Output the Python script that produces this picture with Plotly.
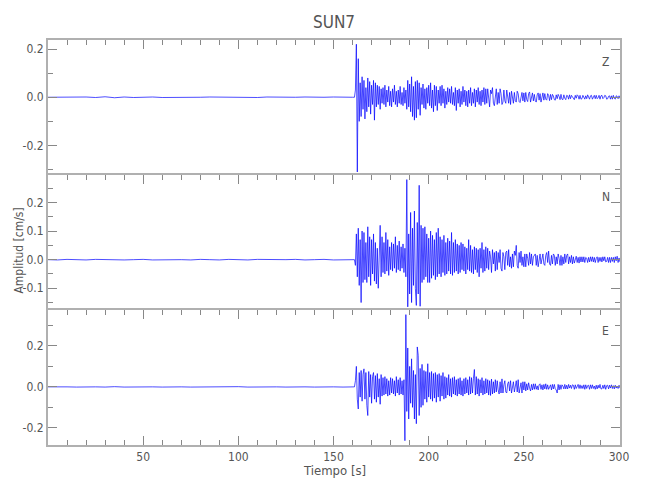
import numpy as np
import plotly.graph_objects as go

# ---------------- data (amplitudes in 0.001 cm/s) ----------------
t_quiet = np.arange(0, 161, 5.0)          # 33 samples, pre-event noise
t_active = np.arange(161.0, 302.01, 0.5)  # 283 samples, event

z_quiet = [0, 1, -1, 0, 1, -1, 2, -2, 1, -1, 0, 1, -1, 0, 1, -1, 0, 1, 0, -1,
           1, 0, -1, 1, 0, -1, 0, 1, -1, 0, 1, -1, 0]
n_quiet = [0, -1, 1, 0, -1, 1, 0, 1, -1, 0, 1, -1, 0, 1, 0, -1, 1, 0, -1, 1,
           0, -1, 1, 0, -1, 0, 1, -1, 0, 1, -1, 0, 0]
e_quiet = [0, 1, 0, -1, 1, 0, -1, 1, -1, 0, 1, 0, -1, 1, 0, -1, 0, 1, -1, 0,
           1, -1, 0, 1, 0, -1, 1, 0, -1, 1, 0, -1, 0]

z_active = [
    0, 30, 220, -310, 160, -100, 60, -80, 85, -50,
    70, -90, 40, -60, 80, -40, 65, -70, 50, -30,
    70, -95, 60, -40, 50, -30, 45, -50, 35, -25,
    40, -30, 50, -40, 30, -20, 45, -35, 25, -40,
    35, -20, 50, -30, 25, -40, 30, -25, 45, -30,
    20, -35, 40, -25, 30, -50, 70, -40, 55, -60,
    85, -80, 45, -95, 65, -85, 70, -50, 60, -75,
    40, -30, 55, -45, 35, -50, 40, -25, 50, -35,
    60, -45, 30, -60, 50, -35, 45, -55, 30, -25,
    45, -35, 50, -25, 35, -45, 25, -30, 40, -20,
    35, -25, 45, -30, 20, -35, 40, -55, 30, -25,
    35, -40, 25, -30, 45, -20, 30, -35, 25, -40,
    30, -25, 40, -35, 20, -25, 35, -40, 30, -20,
    40, -30, 25, -35, 30, -20, 40, -30, 35, -25,
    35, -20, -40, 30, 15, 40, -25, -35, 10, 35,
    -30, 20, -25, 35, 15, -30, -20, 30, -15, -25,
    30, 10, -25, 20, -30, 25, 5, -25, 20, -15,
    -20, 25, 15, -18, -22, 10, 20, -15, 18, -20,
    20, -10, -18, 15, 22, -20, 5, 18, -15, 12,
    -15, -20, 10, 18, -12, 15, -20, 5, 18, -12,
    15, -8, -12, 15, 8, -14, 12, -10, 12, 5,
    -10, -12, 10, -6, 12, 4, -10, 12, -8, -10,
    10, -4, -10, 8, 6, -8, 10, -6, 8, 2,
    -8, -10, 8, -4, 10, 6, -8, 8, -8, -6,
    8, 2, -8, 6, -6, 10, -4, -8, 6, 8,
    -8, 4, 8, -6, 8, -6, -2, 8, -8, 6,
    8, -6, -2, 8, 6, -8, -6, 4, 6, -8,
    6, -8, 8, -4, -8, 6, 4, -6, 6, -4,
    4, -6, 4,
]

n_active = [
    0, -20, 90, -60, 110, -90, 70, -150, 100, -80,
    95, -70, 60, -80, 115, -60, 80, -90, 70, -50,
    90, -75, 60, -85, 40, -100, 30, 120, -60, 80,
    -45, 60, -50, 95, -40, 70, -55, 45, -35, 60,
    -40, 55, -30, 80, -45, 50, -35, 65, -40, 45,
    -30, 55, -45, 40, -60, 280, -165, 90, -120, 165,
    -150, 110, -90, 170, -100, -160, 130, -120, 260, -163,
    120, -80, 110, -70, 115, -60, 90, -80, 75, -80,
    100, -65, 85, -55, 70, -70, 95, -60, 110, -50,
    80, -60, 70, -45, 85, -55, 60, -50, 75, -40,
    65, -50, 95, -55, 60, -45, 70, -40, 55, -50,
    50, -45, 60, -35, 55, -40, 45, -50, 40, -35,
    70, -40, 50, -45, 35, -50, 45, -35, 40, -45,
    35, -60, 40, -30, 60, -45, 35, -40, 45, -30,
    40, -35, 30, 10, -45, 35, -15, 25, -40, 30,
    -35, 25, -10, 35, -30, -40, 25, 10, -35, 25,
    30, -20, 35, -25, 10, -30, 20, -25, 30, 15,
    50, -20, -30, 25, -10, 30, -20, 10, -25, 20,
    -25, 20, 5, -20, 25, -15, 20, -20, 10, 15,
    20, -20, 15, -25, 10, 20, -15, 5, 20, -15,
    -20, 15, 25, -10, 30, -15, -20, 15, -15, 20,
    15, -20, 10, -15, 20, 5, -20, 15, -20, 10,
    -15, 20, -10, 15, 20, -15, 10, -10, 15, -15,
    10, -12, 5, 12, -10, 8, -12, 10, -8, 10,
    -8, 10, -10, 8, 5, -10, 8, -8, 10, -6,
    10, -8, 8, -10, 4, 10, -10, 8, -6, 8,
    -8, 10, -4, 10, -8, -6, 8, -10, 8, -10,
    8, -6, 8, -10, 10, -4, 12, -10, 6, -8,
    -5, 8, -5,
]

e_active = [
    0, 30, 100, -60, -108, 70, -50, 80, -70, 60,
    88, -60, 70, -90, -140, 75, -50, 60, -80, 50,
    70, -60, 55, -75, 65, -50, 40, -85, 60, -45,
    45, -40, 50, -35, 40, -45, 30, -40, 45, -30,
    40, -35, 30, -45, 50, -30, 35, -40, 45, -35,
    30, -40, 35, -263, 353, -120, 190, -157, 100, -80,
    137, -100, 80, -157, 60, -180, 195, 154, -140, 90,
    -100, 110, -90, 80, -60, 75, -75, 113, -50, 70,
    -60, 75, -70, 65, -55, 70, -75, 60, -50, 65,
    -70, 55, -45, 70, -60, 50, -55, 45, -40, 60,
    -45, 40, -50, 45, -35, 50, -40, 35, -45, 40,
    -35, 45, -40, 30, -45, 40, -35, 45, -30, 35,
    -40, 50, -35, 45, -30, 40, 85, -40, 50, -35,
    40, -45, 35, -30, 45, -40, 30, -35, 40, -30,
    35, -40, 30, -42, 38, -35, 25, -30, 35, -25,
    30, -15, -35, 25, -30, 39, -30, 10, 30, -25,
    -30, 15, 25, -20, 30, -30, 10, 25, -25, 20,
    30, -25, 35, -30, 10, 20, -30, 25, -15, 25,
    -20, 15, -15, 20, -5, -20, 12, -15, 15, -12,
    15, -12, 5, -15, 10, 15, -12, 10, -15, 12,
    -10, 15, -12, 10, -12, 4, 10, -15, 12, -10,
    12, -10, -15, -30, 12, -15, 10, -12, 10, 4,
    -10, 12, -10, 8, -10, 12, -6, 8, -8, 10,
    8, -12, 10, -8, 4, 12, -8, 10, -8, 6,
    -8, 10, -12, 10, -8, 6, 8, -12, 10, -8,
    10, -8, 4, -12, 8, -10, 8, -6, 12, -10,
    -10, 8, -8, 10, -12, 6, 8, -10, 8, -6,
    10, -8, 6, -10, 8, -6, 4, -8, 8, -6,
    -5, 6, -4,
]

components = ["Z", "N", "E"]
y_ranges = {"Z": [-0.3225, 0.2375], "N": [-0.176, 0.296], "E": [-0.284, 0.3755]}
y_major = {"Z": [-0.2, 0.0, 0.2], "N": [-0.1, 0.0, 0.1, 0.2], "E": [-0.2, 0.0, 0.2]}
y_minor = {"Z": 0.1, "N": 0.05, "E": 0.1}
x_ticks = [50, 100, 150, 200, 250, 300]

for name, q, a in [("Z", z_quiet, z_active), ("N", n_quiet, n_active), ("E", e_quiet, e_active)]:
    assert len(q) == len(t_quiet), (name, len(q))
    assert len(a) == len(t_active), (name, len(a))

t_all = np.concatenate([t_quiet, t_active])
series = {
    "Z": np.concatenate([z_quiet, z_active]) / 1000.0,
    "N": np.concatenate([n_quiet, n_active]) / 1000.0,
    "E": np.concatenate([e_quiet, e_active]) / 1000.0,
}

# ---------------- figure ----------------
FONT = "Liberation Sans Narrow, DejaVu Sans Condensed, Roboto Condensed, Arial Narrow, Liberation Sans, sans-serif"
TXT = "#555555"
LINE = "#b0b0b0"
TICK = "#888888"

fig = go.Figure()
domains = {"Z": [2 / 3, 1.0], "N": [1 / 3, 2 / 3], "E": [0.0, 1 / 3]}
axis_ids = {"Z": "", "N": "2", "E": "3"}

# the page body adds an 8 px offset; margins compensate for it
layout = dict(
    width=650, height=500,
    margin=dict(l=40, r=38, t=32, b=63),
    paper_bgcolor="white", plot_bgcolor="white",
    showlegend=False,
    font=dict(family=FONT, color=TXT, size=12),
)

for comp in components:
    k = axis_ids[comp]
    fig.add_trace(go.Scatter(
        x=t_all, y=series[comp], mode="lines",
        line=dict(color="#0000ff", width=0.7),
        xaxis="x" + k, yaxis="y" + k, hoverinfo="skip",
    ))
    bottom = comp == "E"
    layout["xaxis" + k] = dict(
        domain=[0, 1], anchor="y" + k, range=[0, 300.5],
        side="bottom" if bottom else "top",
        showgrid=False, zeroline=False,
        showline=True, linecolor=LINE, linewidth=2,
        mirror="ticks" if bottom else False,
        ticks="inside", ticklen=9, tickcolor=TICK, tickwidth=1,
        tickmode="array", tickvals=x_ticks,
        ticktext=[str(v) for v in x_ticks],
        showticklabels=bottom,
        tickfont=dict(size=12, color=TXT, family=FONT),
        minor=dict(dtick=10, tick0=0, ticks="inside", ticklen=5,
                   tickcolor=TICK, tickwidth=1, showgrid=False),
    )
    layout["yaxis" + k] = dict(
        domain=domains[comp], anchor="x" + k, range=y_ranges[comp],
        showgrid=False, zeroline=False,
        showline=True, linecolor=LINE, linewidth=2, mirror="ticks",
        ticks="inside", ticklen=9, tickcolor=TICK, tickwidth=1,
        tickmode="array", tickvals=y_major[comp],
        ticktext=["%.1f" % v for v in y_major[comp]],
        tickfont=dict(size=12, color=TXT, family=FONT),
        minor=dict(dtick=y_minor[comp], tick0=0, ticks="inside", ticklen=5,
                   tickcolor=TICK, tickwidth=1, showgrid=False),
    )

label_y = {"Z": 0.9457, "N": 0.612, "E": 0.2815}
annotations = [
    dict(text="SUN7", x=0.5, y=1.044, xref="paper", yref="paper",
         showarrow=False, font=dict(size=17, color=TXT, family=FONT),
         xanchor="center", yanchor="middle"),
    dict(text="Tiempo [s]", x=0.5, y=-0.062, xref="paper", yref="paper",
         showarrow=False, font=dict(size=13, color=TXT, family=FONT),
         xanchor="center", yanchor="middle"),
    dict(text="Amplitud [cm/s]", x=-0.05, y=0.481, xref="paper", yref="paper",
         showarrow=False, textangle=-90, font=dict(size=12, color=TXT, family=FONT),
         xanchor="center", yanchor="middle"),
]
for comp in components:
    annotations.append(dict(text=comp, x=0.9755, y=label_y[comp], xref="paper", yref="paper",
                            showarrow=False, font=dict(size=12, color=TXT, family=FONT),
                            xanchor="center", yanchor="middle"))
layout["annotations"] = annotations
fig.update_layout(**layout)

fig.write_html("out.html")
